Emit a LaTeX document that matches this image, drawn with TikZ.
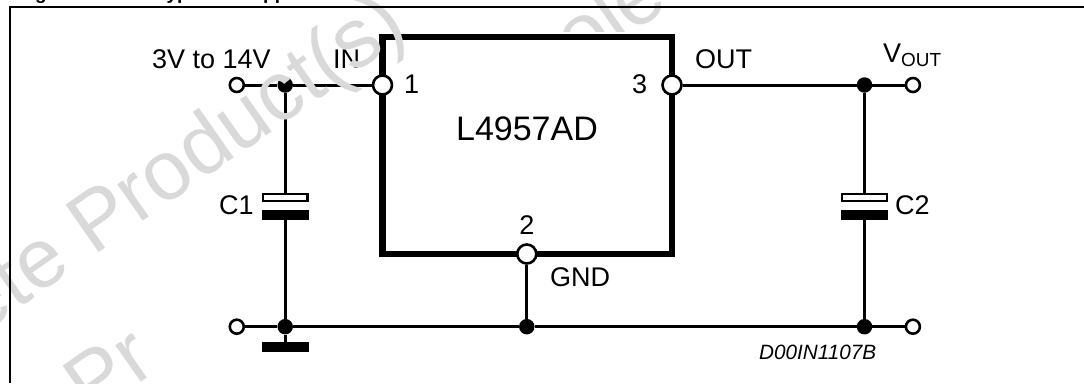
\documentclass[tikz,border=0pt]{standalone}
\usepackage{fontspec}
\setmainfont{Liberation Sans}

\tikzset{
	wire/.style={line width=3pt},
	chip/.style={draw, line width=6.6pt, minimum width=289.5pt, minimum height=217pt, inner sep=0pt},
	pin/.style={circle, draw, line width=2.6pt, fill=white, minimum size=19pt, inner sep=0pt},
	terminal/.style={circle, draw, line width=2.6pt, fill=white, minimum size=14pt, inner sep=0pt},
	junction/.style={circle, fill=black, minimum size=15.5pt, inner sep=0pt},
	plate/.style={draw, line width=2.4pt, fill=white, minimum width=44.6pt, minimum height=6.9pt, inner sep=0pt},
	solidplate/.style={fill=black, minimum width=47pt, minimum height=10pt, inner sep=0pt},
	label/.style={inner sep=0pt, anchor=base west, font=\fontsize{27}{27}\selectfont},
	watermark/.style={inner sep=0pt, text=black!15, rotate=35, font=\fontsize{84}{84}\selectfont},
}

\begin{document}
\begin{tikzpicture}[x=1pt, y=-1pt]
\useasboundingbox (0,0) rectangle (1084,383);

% title
\node[anchor=base west, inner sep=0pt, font=\fontsize{19}{19}\selectfont\bfseries] (title) at (18,-1) {Figure 2.\hspace{59pt}Typical\hspace{29pt}Application};

% circuit
\node[chip] (ic) at (527.25,145.5) {};
\node[inner sep=0pt, anchor=base, font=\fontsize{34}{34}\selectfont] (icname) at (527,140.5) {L4957AD};

\node[terminal] (inleft) at (236.8,85) {};
\node[terminal] (outright) at (912.9,85) {};
\node[terminal] (gndleft) at (236.8,326.7) {};
\node[terminal] (gndright) at (912.9,326.7) {};
\node[junction] (inj) at (285.2,85) {};
\node[junction] (outj) at (864.5,85) {};
\node[junction] (gndj1) at (285.2,326.7) {};
\node[junction] (gndj2) at (526.8,326.7) {};
\node[junction] (gndj3) at (864.5,326.7) {};

\node[solidplate] (c1low) at (285.2,215) {};
\node[plate] (c1up) at (285.2,197.4) {};
\node[solidplate] (c2low) at (864.5,215) {};
\node[plate] (c2up) at (864.5,197.4) {};
\node[solidplate] (ground) at (285.2,347.3) {};

\node[pin] (pin1) at (382.5,85) {};
\node[pin] (pin3) at (672,85) {};
\node[pin] (pin2) at (526.8,254) {};

\draw[wire] (inleft) -- (inj);
\draw[wire] (inj) -- (pin1);
\draw[wire] (pin3) -- (outj);
\draw[wire] (outj) -- (outright);
\draw[wire] (gndleft) -- (gndj1) -- (gndj2) -- (gndj3) -- (gndright);
\draw[wire] (inj) -- (c1up);
\draw[wire] (c1low) -- (gndj1);
\draw[wire] (gndj1) -- (ground);
\draw[wire] (outj) -- (c2up);
\draw[wire] (c2low) -- (gndj3);
\draw[wire] (pin2) -- (gndj2);

% labels
\node[label] (vin) at (152,68) {3V to 14V};
\node[label] (inname) at (333,68) {IN};
\node[label] (num1) at (404,93) {1};
\node[label] (num3) at (632,93) {3};
\node[label, anchor=base] (num2) at (526.8,234) {2};
\node[label] (outname) at (695,68) {OUT};
\node[label] (vout) at (883,62) {V\textsubscript{OUT}};
\node[label] (c1name) at (219,214) {C1};
\node[label] (c2name) at (895,214) {C2};
\node[label] (gndname) at (550,286) {GND};
\node[inner sep=0pt, anchor=base west, font=\fontsize{20.7}{20.7}\selectfont\itshape] (drawno) at (759,359) {D00IN1107B};

% watermark
\node[watermark] (markleft) at (182,168) {ete Product(s)};
\begin{scope}
\clip (560,0) rectangle (680,31);
\node[watermark] (markright) at (608,14) {ole};
\end{scope}
\begin{scope}
\clip (0,300) rectangle (151,383);
\node[watermark] (marklow) at (108,370) {Pr};
\end{scope}

% frame
\coordinate (frametop) at (10,6.7);
\coordinate (frameleft) at (10,383);
\coordinate (frameright) at (1084,6.7);
\draw[line width=1.6pt] (frameleft) -- (frametop) -- (frameright);
\end{tikzpicture}
\end{document}
